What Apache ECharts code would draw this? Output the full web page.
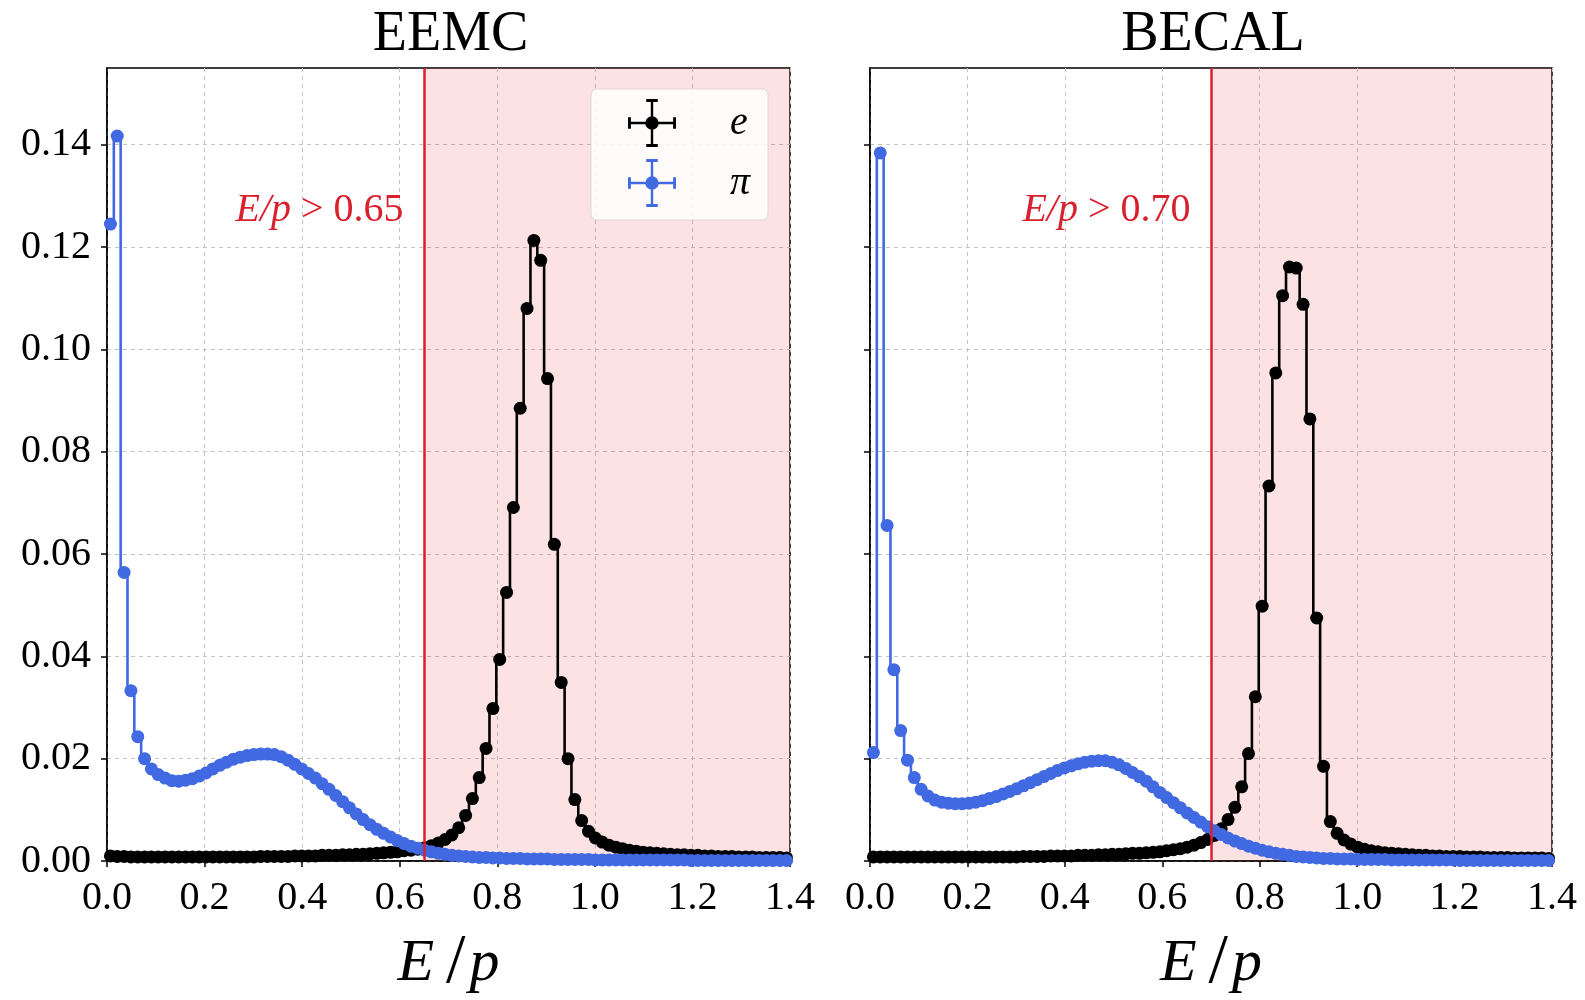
<!DOCTYPE html>
<html><head><meta charset="utf-8">
<script src="https://cdn.jsdelivr.net/npm/echarts@6/dist/echarts.min.js"></script>
<style>html,body{margin:0;padding:0;background:#fff}#c{width:1585px;height:1000px}</style>
</head><body><div id="c"></div><script>
// ---------- data ----------
const panelTitles = ['EEMC', 'BECAL'];
const cutValues = [0.65, 0.70];
const cutLabels = ['0.65', '0.70'];
const xTicks = [0.0, 0.2, 0.4, 0.6, 0.8, 1.0, 1.2, 1.4];
const yTicks = [0.00, 0.02, 0.04, 0.06, 0.08, 0.10, 0.12, 0.14];
const binWidth = 0.014; // 100 bins over [0, 1.4]
const binCenters = Array.from({length: 100}, (_, i) => +((i + 0.5) * binWidth).toFixed(4));

const eemcElectron = [
 0.0010,0.0009,0.0009,0.0008,0.0008,0.0008,0.0008,0.0008,0.0008,0.0008,
 0.0008,0.0008,0.0008,0.0008,0.0008,0.0008,0.0008,0.0008,0.0008,0.0008,
 0.0008,0.0008,0.0009,0.0009,0.0009,0.0009,0.0009,0.0010,0.0010,0.0010,
 0.0010,0.0011,0.0011,0.0011,0.0012,0.0012,0.0013,0.0013,0.0014,0.0015,
 0.0016,0.0017,0.0018,0.0020,0.0021,0.0023,0.0026,0.0030,0.0035,0.0042,
 0.0051,0.0065,0.0089,0.0122,0.0163,0.0220,0.0298,0.0394,0.0525,0.0691,
 0.0885,0.1080,0.1213,0.1174,0.0943,0.0619,0.0349,0.0200,0.0120,0.0079,
 0.0058,0.0045,0.0037,0.0031,0.0027,0.0024,0.0021,0.0019,0.0017,0.0016,
 0.0015,0.0014,0.0013,0.0012,0.0012,0.0011,0.0011,0.0010,0.0010,0.0009,
 0.0009,0.0009,0.0008,0.0008,0.0008,0.0007,0.0007,0.0007,0.0007,0.0006
];
const eemcPion = [
 0.1245,0.1417,0.0564,0.0333,0.0243,0.0200,0.0180,0.0169,0.0162,0.0157,
 0.0156,0.0158,0.0161,0.0166,0.0172,0.0180,0.0187,0.0193,0.0199,0.0203,
 0.0206,0.0208,0.0209,0.0209,0.0208,0.0204,0.0197,0.0189,0.0180,0.0171,
 0.0162,0.0151,0.0140,0.0128,0.0116,0.0104,0.0092,0.0081,0.0071,0.0062,
 0.0054,0.0047,0.0040,0.0034,0.0029,0.0025,0.0021,0.0018,0.0015,0.0013,
 0.0011,0.0010,0.0009,0.0008,0.0007,0.0007,0.0006,0.0006,0.0005,0.0005,
 0.0005,0.0004,0.0004,0.0004,0.0004,0.0003,0.0003,0.0003,0.0003,0.0003,
 0.0003,0.0002,0.0002,0.0002,0.0002,0.0002,0.0002,0.0002,0.0002,0.0002,
 0.0002,0.0002,0.0002,0.0002,0.0002,0.0001,0.0001,0.0001,0.0001,0.0001,
 0.0001,0.0001,0.0001,0.0001,0.0001,0.0001,0.0001,0.0001,0.0001,0.0001
];
const becalElectron = [
 0.0008,0.0008,0.0008,0.0008,0.0008,0.0008,0.0008,0.0008,0.0008,0.0008,
 0.0008,0.0008,0.0008,0.0008,0.0008,0.0008,0.0008,0.0008,0.0008,0.0008,
 0.0008,0.0008,0.0009,0.0009,0.0009,0.0009,0.0010,0.0010,0.0010,0.0010,
 0.0011,0.0011,0.0011,0.0012,0.0012,0.0013,0.0013,0.0014,0.0015,0.0015,
 0.0016,0.0017,0.0018,0.0020,0.0022,0.0024,0.0027,0.0031,0.0036,0.0042,
 0.0050,0.0063,0.0081,0.0105,0.0145,0.0210,0.0321,0.0498,0.0733,0.0954,
 0.1105,0.1161,0.1159,0.1088,0.0864,0.0475,0.0185,0.0077,0.0054,0.0041,
 0.0033,0.0027,0.0023,0.0020,0.0018,0.0016,0.0015,0.0014,0.0013,0.0012,
 0.0011,0.0011,0.0010,0.0010,0.0009,0.0009,0.0009,0.0008,0.0008,0.0008,
 0.0007,0.0007,0.0007,0.0007,0.0006,0.0006,0.0006,0.0006,0.0006,0.0005
];
const becalPion = [
 0.0212,0.1384,0.0656,0.0374,0.0255,0.0197,0.0163,0.0140,0.0127,0.0119,
 0.0115,0.0113,0.0112,0.0112,0.0113,0.0115,0.0118,0.0122,0.0126,0.0131,
 0.0136,0.0141,0.0147,0.0153,0.0159,0.0165,0.0171,0.0177,0.0182,0.0186,
 0.0190,0.0193,0.0195,0.0196,0.0196,0.0193,0.0188,0.0181,0.0173,0.0165,
 0.0156,0.0145,0.0134,0.0124,0.0114,0.0104,0.0094,0.0085,0.0076,0.0067,
 0.0059,0.0052,0.0045,0.0039,0.0034,0.0029,0.0025,0.0021,0.0018,0.0015,
 0.0013,0.0011,0.0009,0.0008,0.0007,0.0006,0.0005,0.0005,0.0004,0.0004,
 0.0004,0.0003,0.0003,0.0003,0.0003,0.0003,0.0002,0.0002,0.0002,0.0002,
 0.0002,0.0002,0.0002,0.0002,0.0002,0.0002,0.0001,0.0001,0.0001,0.0001,
 0.0001,0.0001,0.0001,0.0001,0.0001,0.0001,0.0001,0.0001,0.0001,0.0001
];
const electronSets = [eemcElectron, becalElectron];
const pionSets = [eemcPion, becalPion];

// ---------- styling ----------
const SERIF = 'Liberation Serif';
const RED = '#d9212e';
const BLUE = '#4169e1';
const BLACK = '#000000';
const grids = [
  {left: 107, top: 68, width: 683, height: 793},
  {left: 870, top: 68, width: 682, height: 793}
];
const errIcon = 'path://M0,47.5L100,47.5L100,52.5L0,52.5Z M47.5,0L52.5,0L52.5,100L47.5,100Z ' +
  'M0,38L6,38L6,62L0,62Z M94,38L100,38L100,62L94,62Z M38,0L62,0L62,6L38,6Z M38,94L62,94L62,100L38,100Z ' +
  'M36,50A14,14 0 1,1 64,50A14,14 0 1,1 36,50Z';

const pairs = (xs, ys) => xs.map((x, i) => [x, ys[i]]);

const xAxes = [], yAxes = [], series = [], titles = [];
for (let k = 0; k < 2; k++) {
  const g = grids[k];
  titles.push({
    text: panelTitles[k], left: g.left + g.width / 2 - 3, top: 2, textAlign: 'center',
    textStyle: {fontFamily: SERIF, fontSize: 56, fontWeight: 'normal', color: '#000'}
  });
  xAxes.push({
    gridIndex: k, type: 'value', min: 0, max: 1.4, interval: 0.2,
    name: '{i|E}{s|/}{i|p}', nameLocation: 'middle', nameGap: 68,
    nameTextStyle: {rich: {
      i: {fontFamily: SERIF, fontStyle: 'italic', fontSize: 60, color: '#000'},
      s: {fontFamily: SERIF, fontSize: 70, color: '#000', padding: [0, 4, 0, 12]}
    }},
    axisLine: {show: true, onZero: false, lineStyle: {color: '#000', width: 1.5}},
    axisTick: {show: true, inside: false, length: 6, lineStyle: {color: '#000', width: 1.5}},
    axisLabel: {fontFamily: SERIF, fontSize: 40, color: '#000', margin: 17,
      formatter: v => v.toFixed(1)},
    splitLine: {show: true, lineStyle: {color: '#c4c4c4', type: [4, 4], width: 1}}
  });
  yAxes.push({
    gridIndex: k, type: 'value', min: 0, max: 0.155, interval: 0.02,
    axisLine: {show: true, lineStyle: {color: '#000', width: 1.5}},
    axisTick: {show: true, inside: false, length: 6, customValues: yTicks, lineStyle: {color: '#000', width: 1.5}},
    axisLabel: {show: k === 0, fontFamily: SERIF, fontSize: 40, color: '#000', margin: 16,
      customValues: yTicks, formatter: v => v.toFixed(2)},
    splitLine: {show: true, lineStyle: {color: '#c4c4c4', type: [4, 4], width: 1}}
  });
  series.push({
    name: 'e', type: 'line', xAxisIndex: k, yAxisIndex: k, step: 'middle',
    data: pairs(binCenters, electronSets[k]),
    symbol: 'circle', symbolSize: 13, showSymbol: true, showAllSymbol: true,
    lineStyle: {color: BLACK, width: 2.6}, itemStyle: {color: BLACK},
    z: 3, animation: false,
    markArea: {silent: true, itemStyle: {color: 'rgba(240,60,70,0.15)'},
      data: [[{xAxis: cutValues[k]}, {xAxis: 1.4}]]},
    markLine: {silent: true, symbol: 'none', label: {show: false},
      lineStyle: {color: RED, width: 2.5, type: 'solid'},
      data: [{xAxis: cutValues[k]}]},
    markPoint: {silent: true, symbol: 'circle', symbolSize: 1, itemStyle: {color: 'rgba(0,0,0,0)'},
      data: [{coord: [cutValues[k], 0.1272],
        label: {show: true, position: 'left', distance: 20,
          formatter: '{i|E/p}{n| > ' + cutLabels[k] + '}',
          rich: {
            i: {fontFamily: SERIF, fontStyle: 'italic', fontSize: 40, color: RED},
            n: {fontFamily: SERIF, fontSize: 40, color: RED}
          }}}]}
  });
  series.push({
    name: '\u03c0', type: 'line', xAxisIndex: k, yAxisIndex: k, step: 'middle',
    data: pairs(binCenters, pionSets[k]),
    symbol: 'circle', symbolSize: 13, showSymbol: true, showAllSymbol: true,
    lineStyle: {color: BLUE, width: 2.6}, itemStyle: {color: BLUE},
    z: 4, animation: false
  });
}

const chart = echarts.init(document.getElementById('c'), null, {renderer: 'canvas'});
chart.setOption({
  animation: false,
  backgroundColor: '#fff',
  title: titles,
  grid: grids.map(g => Object.assign({show: true, borderColor: '#000', borderWidth: 1.5,
    backgroundColor: 'transparent', containLabel: false, outerBoundsMode: 'none'}, g)),
  xAxis: xAxes,
  yAxis: yAxes,
  legend: {
    data: ['e', '\u03c0'], orient: 'vertical', left: 591, top: 89,
    padding: [10, 18, 13, 37], itemGap: 12, itemWidth: 48, itemHeight: 48,
    icon: errIcon,
    backgroundColor: 'rgba(255,255,255,0.85)', borderColor: '#d8d8d8', borderWidth: 1, borderRadius: 6,
    textStyle: {fontFamily: SERIF, fontStyle: 'italic', fontSize: 40, color: '#000', padding: [0, 0, 0, 49]}
  },
  series: series
});
</script></body></html>
